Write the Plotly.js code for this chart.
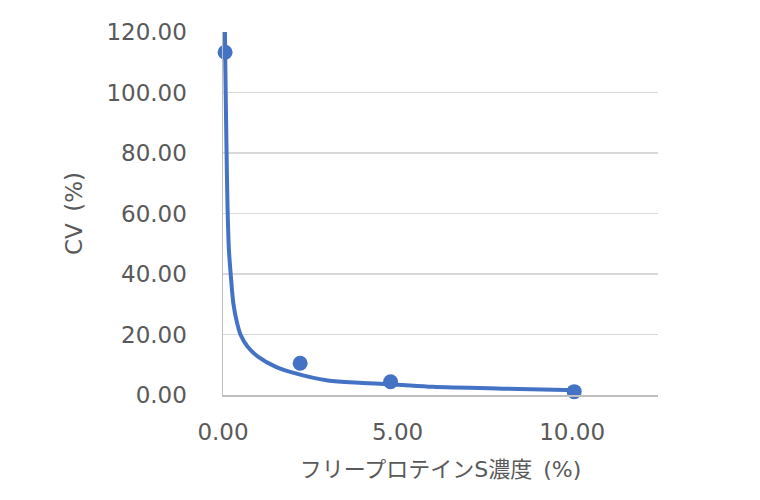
<!DOCTYPE html>
<html>
<head>
<meta charset="utf-8">
<script src="https://cdn.plot.ly/plotly-3.0.1.min.js"></script>
<style>html,body{margin:0;padding:0;background:#fff}#chart{width:760px;height:500px}</style>
</head>
<body>
<div id="chart"></div>
<script>
// Measured data points
var concX = [0.06, 2.21, 4.80, 10.06];
var cvY = [113.3, 10.5, 4.4, 1.1];
// Trend curve
var trendX = [0.04, 0.06, 0.077, 0.10, 0.13, 0.17, 0.22, 0.30, 0.40, 0.50, 0.70, 1.0, 1.5, 2.0, 3.0, 4.0, 5.0, 6.0, 8.0, 10.15];
var trendY = [140, 115, 100, 82, 62, 48, 40, 30, 24, 20, 16, 12.7, 9.4, 7.4, 4.8, 4.0, 3.4, 2.7, 2.1, 1.6];
var xTitle = 'フリープロテインS濃度\u2002(%)';
var yTitle = 'CV\u2002(%)';

var fontFam = 'DejaVu Sans, Verdana, Noto Sans CJK JP, sans-serif';
var gray = '#595959';
var blue = '#4472C4';

var traces = [
  {x: trendX, y: trendY, mode: 'lines', type: 'scatter', line: {color: blue, width: 4, shape: 'spline', smoothing: 0.8}, hoverinfo: 'skip', showlegend: false},
  {x: concX, y: cvY, mode: 'markers', type: 'scatter', marker: {color: blue, size: 15}, showlegend: false, cliponaxis: false}
];

var layout = {
  width: 760, height: 500,
  margin: {l: 223, r: 102, t: 32, b: 105},
  paper_bgcolor: '#fff', plot_bgcolor: '#fff',
  font: {family: fontFam, color: gray, size: 22},
  showlegend: false,
  xaxis: {
    range: [0, 12.46], dtick: 5, tick0: 0, tickformat: '.2f',
    showgrid: false, zeroline: false, showline: true, linecolor: '#bfbfbf', linewidth: 1.5,
    ticks: '', ticklabelstandoff: 16,
    tickfont: {family: fontFam, color: gray, size: 23},
    title: {text: xTitle, font: {family: fontFam, color: gray, size: 22}, standoff: 17}
  },
  yaxis: {
    range: [0, 120], dtick: 20, tick0: 0, tickformat: '.2f',
    showgrid: true, gridcolor: '#d9d9d9', gridwidth: 1.5, zeroline: false,
    showline: true, linecolor: '#bfbfbf', linewidth: 1.5,
    ticks: '', ticklabelstandoff: 30,
    tickfont: {family: fontFam, color: gray, size: 23},
    title: {text: yTitle, font: {family: fontFam, color: gray, size: 23}, standoff: 17}
  }
};

Plotly.newPlot('chart', traces, layout, {displayModeBar: false, staticPlot: true});
</script>
</body>
</html>
